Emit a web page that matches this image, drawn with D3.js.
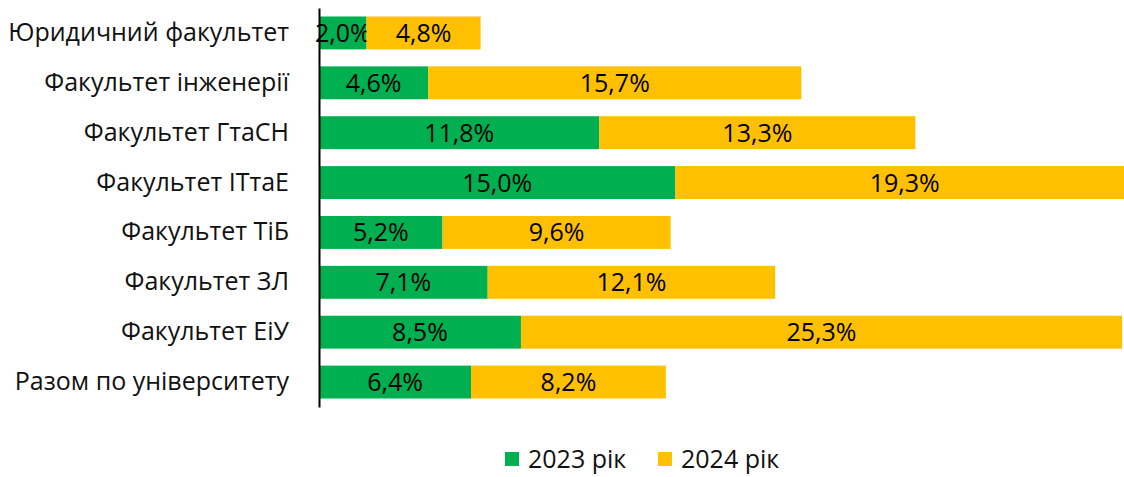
<!DOCTYPE html>
<html>
<head>
<meta charset="utf-8">
<script src="https://cdn.jsdelivr.net/npm/d3@7"></script>
<style>
  body { margin: 0; background: #fff; }
  svg { display: block; font-family: "Open Sans", "Noto Sans", sans-serif; }
</style>
</head>
<body>
<div id="chart"></div>
<script>
// faculties, top to bottom
var categories = [
    "Юридичний факультет",
    "Факультет інженерії",
    "Факультет ГтаСН",
    "Факультет ІТтаЕ",
    "Факультет ТіБ",
    "Факультет ЗЛ",
    "Факультет ЕіУ",
    "Разом по університету"
];
var values2023 = [2.0, 4.6, 11.8, 15.0, 5.2, 7.1, 8.5, 6.4];
var values2024 = [4.8, 15.7, 13.3, 19.3, 9.6, 12.1, 25.3, 8.2];
var seriesNames = ["2023 рік", "2024 рік"];
var seriesColors = ["#00B050", "#FFC000"];

var width = 1124, height = 477;
var x0 = 319;

var svg = d3.select("#chart").append("svg")
    .attr("width", width).attr("height", height);

var rows = categories.map(function(c, i) {
    return {name: c, a: values2023[i], b: values2024[i]};
});

var stack = d3.stack().keys(["a", "b"]);
var layers = stack(rows);

var x = d3.scaleLinear().domain([0, 35]).range([x0, x0 + 23.76 * 35]);
var y = d3.scaleBand().domain(categories).range([8, 407]).paddingInner(0.34).paddingOuter(0.17);

var fmt = function(v) { return d3.format(".1f")(v).replace(".", ",") + "%"; };

var g = svg.selectAll("g.layer").data(layers).enter().append("g")
    .attr("class", "layer")
    .attr("fill", function(d, i) { return seriesColors[i]; });

g.selectAll("rect").data(function(d) { return d; }).enter().append("rect")
    .attr("x", function(d) { return x(d[0]); })
    .attr("y", function(d) { return y(d.data.name); })
    .attr("width", function(d) { return x(d[1]) - x(d[0]); })
    .attr("height", y.bandwidth());

g.selectAll("text").data(function(d) { return d; }).enter().append("text")
    .attr("x", function(d) { return (x(d[0]) + x(d[1])) / 2; })
    .attr("y", function(d) { return y(d.data.name) + y.bandwidth() / 2; })
    .attr("dy", "0.36em")
    .attr("text-anchor", "middle")
    .attr("fill", "#000")
    .style("font-size", "25px")
    .text(function(d) { return fmt(d[1] - d[0]); });

// category axis
var yAxis = svg.append("g")
    .attr("transform", "translate(" + x0 + ",0)")
    .call(d3.axisLeft(y).tickSize(0).tickPadding(30));
yAxis.select(".domain").attr("stroke", "#000").attr("stroke-width", 2);
yAxis.selectAll("text")
    .style("font-size", "25px")
    .style("font-family", "'Open Sans', sans-serif")
    .attr("fill", "#111");

// legend
var legendX = [505, 658];
var legend = svg.selectAll("g.legend").data(seriesNames).enter().append("g")
    .attr("class", "legend")
    .attr("transform", function(d, i) { return "translate(" + legendX[i] + ",452)"; });
legend.append("rect")
    .attr("width", 14).attr("height", 14)
    .attr("fill", function(d, i) { return seriesColors[i]; });
legend.append("text")
    .attr("x", 23).attr("y", 7).attr("dy", "0.36em")
    .style("font-size", "25px")
    .attr("fill", "#111")
    .text(function(d) { return d; });
</script>
</body>
</html>
